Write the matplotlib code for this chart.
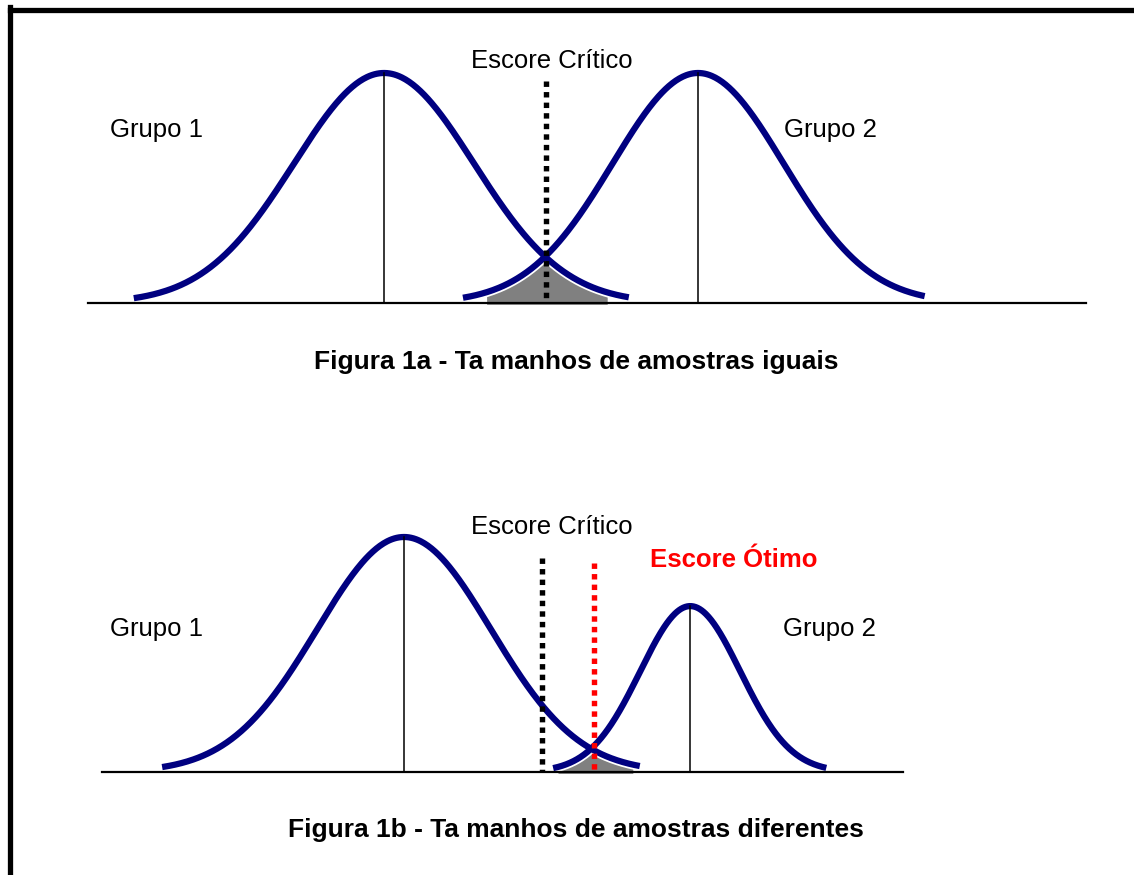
import numpy as np
import matplotlib
matplotlib.use("Agg")
import matplotlib.pyplot as plt
from matplotlib.lines import Line2D

plt.rcParams['font.family'] = ['Liberation Sans', 'DejaVu Sans']

# Figura 1a: two groups of equal size (scores in sd units of group 1)
a_means = [0.0, 3.49]
a_sds = [1.0, 0.95]
a_amps = [1.0, 1.0]
a_zspan = [(-2.78, 2.72), (-2.75, 2.65)]
a_critico = 1.80
a_critico_top = 0.965
a_overlap = (1.14, 2.48)
a_baseline = (-3.29, 7.80)

# Figura 1b: group 2 is smaller
b_means = [0.0, 3.29]
b_sds = [1.0, 0.575]
b_amps = [1.0, 0.706]
b_zspan = [(-2.78, 2.71), (-2.74, 2.72)]
b_critico = 1.59
b_critico_top = 0.91
b_otimo = 2.18
b_otimo_top = 0.89
b_overlap = (1.77, 2.63)
b_baseline = (-3.47, 5.74)

navy = '#000080'
W, H = 1134, 875


def curve(x, m, s, a):
    return a * np.exp(-0.5 * ((x - m) / s) ** 2)


def panel(ax, means, sds, amps, zspan, overlap, baseline):
    # grey overlap area, white halo of the curves keeps a gap around it
    xo = np.linspace(overlap[0], overlap[1], 400)
    yo = np.minimum(curve(xo, means[0], sds[0], amps[0]),
                    curve(xo, means[1], sds[1], amps[1]))
    ax.fill_between(xo, -0.006, yo, color='#808080', lw=0, zorder=1)
    xs = []
    for m, s, a, (z0, z1) in zip(means, sds, amps, zspan):
        x = np.linspace(m + z0 * s, m + z1 * s, 400)
        xs.append((x, curve(x, m, s, a)))
        ax.plot(x, curve(x, m, s, a), color='white', lw=7.0,
                solid_capstyle='butt', zorder=2)
    for x, y in xs:
        ax.plot(x, y, color=navy, lw=4.5, solid_capstyle='butt', zorder=3)
    for m, a in zip(means, amps):
        ax.plot([m, m], [0, a], color='black', lw=1.1, zorder=4)
    ax.plot(baseline, [0, 0], color='black', lw=1.6, zorder=4)


def dotted(ax, x, top, color):
    ax.plot([x, x], [top, 0], color=color, lw=3.9,
            linestyle=(0, (1, 0.95)), dash_capstyle='butt', zorder=5)


fig = plt.figure(figsize=(W / 100, H / 100), dpi=100)

# top panel: 90 px per sd, mean of group 1 at x=384 px, baseline at y=303 px
mid = 437
ax1 = fig.add_axes([0, 1 - mid / H, 1, mid / H])
ax1.set_xlim(-384 / 90, (W - 384) / 90)
ax1.set_ylim(-(mid - 303) / 230, 303 / 230)
ax1.axis('off')
panel(ax1, a_means, a_sds, a_amps, a_zspan, a_overlap, a_baseline)
dotted(ax1, a_critico, a_critico_top, 'black')
ax1.text(-2.53, 0.72, 'Grupo 1', fontsize=18.5, ha='center', va='baseline')
ax1.text(4.96, 0.72, 'Grupo 2', fontsize=18.5, ha='center', va='baseline')
ax1.text(1.87, 1.02, 'Escore Crítico', fontsize=18.5, ha='center', va='baseline')
ax1.text(2.14, -0.287, 'Figura 1a - Ta manhos de amostras iguais', fontsize=19,
         fontweight='bold', ha='center', va='baseline')

# bottom panel: 87 px per sd, mean of group 1 at x=404 px, baseline at y=772 px
ax2 = fig.add_axes([0, 0, 1, 1 - mid / H])
ax2.set_xlim(-404 / 87, (W - 404) / 87)
ax2.set_ylim(-(H - 772) / 235, (772 - mid) / 235)
ax2.axis('off')
panel(ax2, b_means, b_sds, b_amps, b_zspan, b_overlap, b_baseline)
dotted(ax2, b_critico, b_critico_top, 'black')
dotted(ax2, b_otimo, b_otimo_top, '#ff0000')
ax2.text(-2.85, 0.579, 'Grupo 1', fontsize=18.5, ha='center', va='baseline')
ax2.text(4.89, 0.579, 'Grupo 2', fontsize=18.5, ha='center', va='baseline')
ax2.text(1.70, 1.013, 'Escore Crítico', fontsize=18.5, ha='center', va='baseline')
ax2.text(3.79, 0.872, 'Escore Ótimo', fontsize=18.5, fontweight='bold',
         color='#ff0000', ha='center', va='baseline')
ax2.text(1.98, -0.277, 'Figura 1b - Ta manhos de amostras diferentes', fontsize=19,
         fontweight='bold', ha='center', va='baseline')

# frame on the left and top edges
fig.add_artist(Line2D([9.5 / W, 9.5 / W], [0, 1 - 7 / H], color='black', lw=3.8,
                      solid_capstyle='projecting', transform=fig.transFigure))
fig.add_artist(Line2D([9.5 / W, 1], [1 - 9.5 / H, 1 - 9.5 / H], color='black', lw=3.8,
                      transform=fig.transFigure))

fig.savefig('out.png', dpi=100, facecolor='white')
